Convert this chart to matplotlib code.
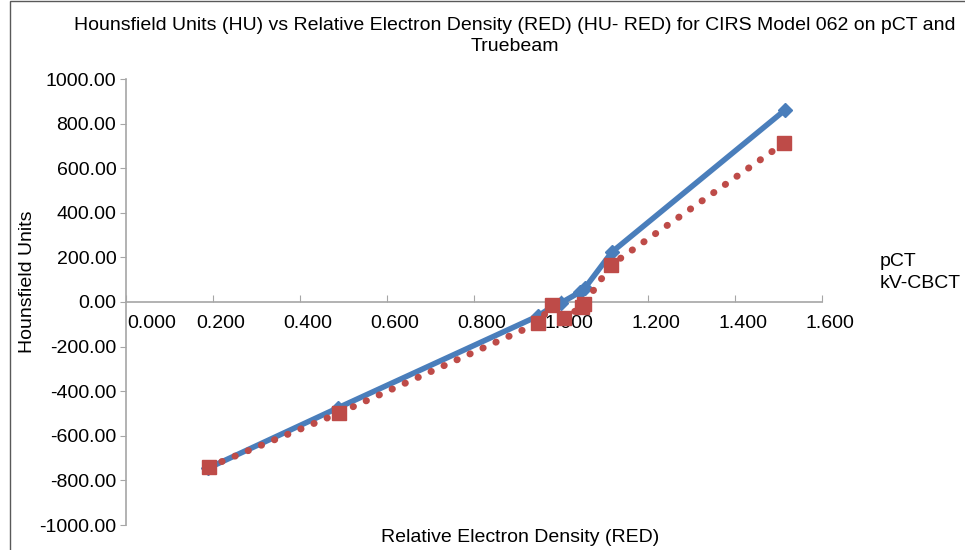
import matplotlib
matplotlib.use("Agg")
import matplotlib.pyplot as plt
from matplotlib.transforms import ScaledTranslation
from matplotlib.patches import Rectangle

# relative electron density of the CIRS 062 inserts
red_pct = [0.189, 0.487, 0.947, 0.986, 1.000, 1.044, 1.055, 1.117, 1.515]
hu_pct = [-745, -475, -63, -13, -4, 45, 63, 224, 861]

red_cbct = [0.190, 0.490, 0.947, 0.979, 1.007, 1.048, 1.053, 1.115, 1.513]
hu_cbct = [-740, -498, -95, -13, -72, -22, -9, 166, 713]

xticks = [0.0, 0.2, 0.4, 0.6, 0.8, 1.0, 1.2, 1.4, 1.6]
yticks = [-1000, -800, -600, -400, -200, 0, 200, 400, 600, 800, 1000]

blue = "#4A7EBB"
red = "#BE4B48"
grey = "#A6A6A6"

plt.rcParams['font.family'] = ['Liberation Sans', 'DejaVu Sans']

W, H = 965, 550
fig = plt.figure(figsize=(W / 100, H / 100), dpi=100)
ax = fig.add_axes([126 / W, 1 - 525 / H, (822 - 126) / W, (525 - 79) / H])

ax.plot(red_pct, hu_pct, color=blue, lw=4.0, marker='D', ms=7,
        solid_joinstyle='round', solid_capstyle='round', zorder=3)
ax.plot(red_cbct, hu_cbct, color=red, lw=5.0, linestyle=(0, (0.05, 2.0)),
        dash_capstyle='round', marker='s', ms=9.5, zorder=4)

ax.set_xlim(0, 1.6)
ax.set_ylim(-1000, 1000)
ax.set_xticks(xticks)
ax.set_xticklabels(["%.3f" % v for v in xticks])
ax.set_yticks(yticks)
ax.set_yticklabels(["%.2f" % v for v in yticks])

for s in ['top', 'right']:
    ax.spines[s].set_visible(False)
ax.spines['bottom'].set_position(('data', 0))
ax.spines['bottom'].set_color(grey)
ax.spines['left'].set_color(grey)
ax.spines['bottom'].set_linewidth(1.2)
ax.spines['left'].set_linewidth(1.2)

ax.tick_params(axis='x', direction='in', length=5, color=grey, labelsize=14, pad=9)
ax.tick_params(axis='y', direction='out', length=4, color=grey, labelsize=14, pad=3)

for i, lab in enumerate(ax.get_xticklabels()):
    dx = 26 if i == 0 else 8
    lab.set_transform(lab.get_transform() + ScaledTranslation(dx / 100, 0, fig.dpi_scale_trans))

fig.text(515 / W, 1 - 17 / H,
         "Hounsfield Units (HU) vs Relative Electron Density (RED) (HU- RED) for CIRS Model 062 on pCT and\nTruebeam",
         ha='center', va='top', fontsize=14, linespacing=1.3)
fig.text(28 / W, 1 - 282 / H, "Hounsfield Units", rotation=90, ha='center', va='center', fontsize=14)
fig.text(520 / W, 1 - 537 / H, "Relative Electron Density (RED)", ha='center', va='center', fontsize=14)
fig.text(880 / W, 1 - 262 / H, "pCT", ha='left', va='center', fontsize=14)
fig.text(880 / W, 1 - 283 / H, "kV-CBCT", ha='left', va='center', fontsize=14)

fig.patches.append(Rectangle((10 / W, -0.1), 1.2, 1.1 - 1 / H, transform=fig.transFigure,
                             fill=False, edgecolor='#595959', lw=1.0))

fig.savefig("out.png", dpi=100)
